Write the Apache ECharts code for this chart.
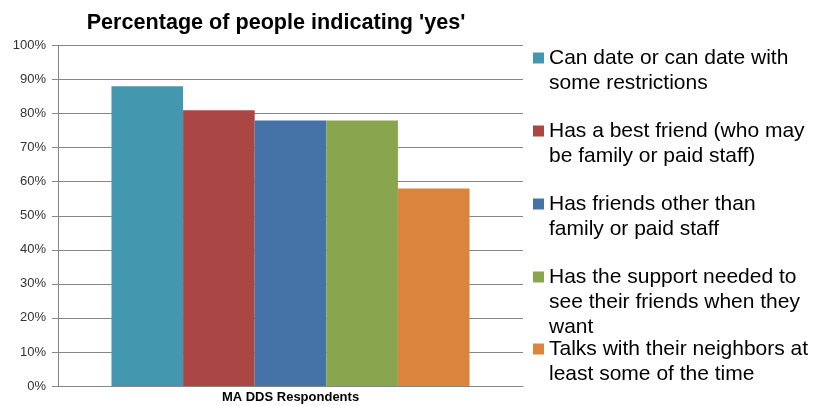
<!DOCTYPE html>
<html>
<head>
<meta charset="utf-8">
<script src="https://cdn.jsdelivr.net/npm/echarts@6/dist/echarts.min.js"></script>
<style>html,body{margin:0;padding:0;background:#fff}#c{width:821px;height:406px}</style>
</head>
<body>
<div id="c"></div>
<script>
const categories = ['MA DDS Respondents'];
const seriesNames = [
  'Can date or can date with some restrictions',
  'Has a best friend (who may be family or paid staff)',
  'Has friends other than family or paid staff',
  'Has the support needed to see their friends when they want',
  'Talks with their neighbors at least some of the time'
];
const legendLabels = [
  'Can date or can date with\nsome restrictions',
  'Has a best friend (who may\nbe family or paid staff)',
  'Has friends other than\nfamily or paid staff',
  'Has the support needed to\nsee their friends when they\nwant',
  'Talks with their neighbors at\nleast some of the time'
];
const values = [88, 81, 78, 78, 58];
const colors = ['#4398AF', '#AA4643', '#4572A7', '#89A54E', '#DB843D'];
const yTicks = { min: 0, max: 100, interval: 10 };

const FONT = 'Liberation Sans, Arial, sans-serif';
const LH = 25;
const iconCenters = [58, 131, 204, 277, 349];

// Prepend (n-1) empty lines so the first text line sits level with the legend icon.
function padLabel(label) {
  const n = label.split('\n').length;
  return '\n'.repeat(n - 1) + label;
}

const legends = seriesNames.map((name, i) => {
  const n = legendLabels[i].split('\n').length;
  const h = (2 * n - 1) * LH;
  return {
    orient: 'vertical',
    left: 533,
    top: iconCenters[i] - h / 2,
    padding: 0,
    itemWidth: 11,
    itemHeight: 11,
    itemGap: 0,
    icon: 'rect',
    selectedMode: false,
    data: [name],
    formatter: nm => padLabel(legendLabels[seriesNames.indexOf(nm)]),
    textStyle: {
      fontFamily: FONT,
      fontSize: 21,
      lineHeight: LH,
      color: '#000'
    }
  };
});

const chart = echarts.init(document.getElementById('c'));
chart.setOption({
  animation: false,
  title: {
    text: "Percentage of people indicating 'yes'",
    left: 276,
    top: 12,
    padding: 0,
    textAlign: 'center',
    textStyle: { fontFamily: FONT, fontSize: 21.6, fontWeight: 'bold', color: '#000' }
  },
  legend: legends,
  grid: { left: 58, right: 298, top: 45.5, bottom: 20, containLabel: false },
  xAxis: {
    type: 'category',
    data: categories,
    axisLine: { show: true, lineStyle: { color: '#868686', width: 1 } },
    axisTick: { show: false },
    axisLabel: { fontFamily: FONT, fontSize: 13, fontWeight: 'bold', color: '#000', margin: 5 }
  },
  yAxis: {
    type: 'value',
    min: yTicks.min,
    max: yTicks.max,
    interval: yTicks.interval,
    axisLine: { show: true, lineStyle: { color: '#868686', width: 1 } },
    axisTick: { show: true, length: 6, lineStyle: { color: '#868686' } },
    splitLine: { show: true, lineStyle: { color: '#868686', width: 1 } },
    axisLabel: { formatter: '{value}%', fontFamily: FONT, fontSize: 13, color: '#333', margin: 12 }
  },
  series: seriesNames.map((name, i) => ({
    type: 'bar',
    name: name,
    data: [values[i]],
    itemStyle: { color: colors[i] },
    barGap: '0%',
    barCategoryGap: '23%'
  }))
});
</script>
</body>
</html>
